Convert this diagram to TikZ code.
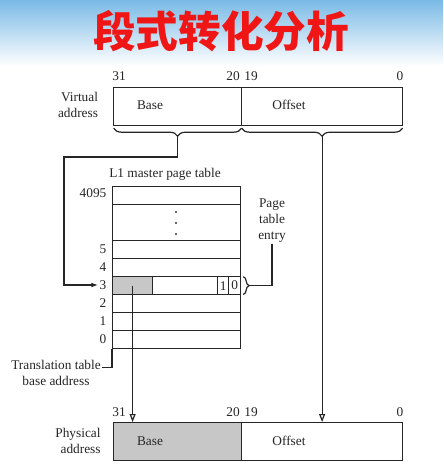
\documentclass[tikz,border=0pt]{standalone}
\usepackage{fontspec}
\setmainfont{Liberation Serif}
\newfontfamily\cjk{Noto Sans CJK SC}
\usetikzlibrary{arrows.meta,decorations.pathreplacing}
\definecolor{sky}{RGB}{122,186,230}
\definecolor{titlered}{RGB}{240,22,22}

\begin{document}
\begin{tikzpicture}[x=0.75pt,y=-0.75pt,
  cell/.style={draw=black!85, line width=0.9pt, inner sep=0pt, anchor=north west},
  lbl/.style={text=black!85, font=\fontsize{10}{12}\selectfont, inner sep=1pt},
  conn/.style={draw=black!85, line width=0.9pt},
  openarrow/.style={conn, -{Triangle[open, length=6pt, width=4.5pt]}}]
\newcommand{\px}{0.75pt}
\useasboundingbox (0,0) rectangle (443,466);
\fill[white] (0,0) rectangle (443,466);
\shade[top color=sky, bottom color=white] (0,0) rectangle (443,66);
\node[font=\cjk\bfseries\fontsize{32}{32}\selectfont, text=titlered] (title) at (221,31) {段式转化分析};

% virtual address
\node[cell, minimum width=128*\px, minimum height=38*\px] (vbase) at (113,87) {};
\node[cell, minimum width=161*\px, minimum height=38*\px] (voff) at (241,87) {};
\node[lbl] (vbasetxt) at (150,105) {Base};
\node[lbl] (vofftxt) at (289,105) {Offset};
\node[lbl, align=right] (vaddr) at (78,105) {Virtual\\address};
\foreach \b/\x in {31/119,20/233,19/251,0/400}
  {
    \node[lbl] (vb\b) at (\x,76) {\b};
  }
\draw[conn, decorate, decoration={brace, mirror, amplitude=6pt}]
  ([xshift=0.5pt,yshift=-1.5pt]vbase.south west) -- ([xshift=-0.5pt,yshift=-1.5pt]vbase.south east);
\draw[conn, decorate, decoration={brace, mirror, amplitude=6pt}]
  ([xshift=0.5pt,yshift=-1.5pt]voff.south west) -- ([xshift=-0.5pt,yshift=-1.5pt]voff.south east);
\coordinate (vbtip) at ([yshift=-7.5pt]vbase.south);
\coordinate (votip) at ([yshift=-7.5pt]voff.south);

% L1 master page table
\node[lbl] (ttitle) at (165,174) {L1 master page table};
\node[cell, minimum width=128*\px, minimum height=18*\px] (r4095) at (112,186) {};
\node[cell, minimum width=128*\px, minimum height=36*\px] (rdots) at (112,204) {};
\foreach \y in {212,223,234}
  \fill[black!80] (176,\y) circle (0.9pt);
\node[lbl, anchor=east] (l4095) at (108,193) {4095};
\foreach \n [count=\i from 0] in {5,4,3,2,1,0}
  {
    \node[cell, minimum width=128*\px, minimum height=18*\px] (r\n) at (112,240+18*\i) {};
    \node[lbl, anchor=east] (l\n) at (108,249+18*\i) {\n};
  }
\node[cell, fill=black!22, minimum width=40*\px, minimum height=18*\px] (gbase) at (112,276) {};
\node[lbl, cell, minimum width=11*\px, minimum height=18*\px] (bit1) at (217,276) {1};
\node[lbl, cell, minimum width=12*\px, minimum height=18*\px] (bit0) at (228,276) {0};

\draw[conn, decorate, decoration={brace, amplitude=4.5pt}]
  ([xshift=1.5pt,yshift=-0.5pt]r3.north east) -- ([xshift=1.5pt,yshift=0.5pt]r3.south east);
\coordinate (rbtip) at ([xshift=6pt]r3.east);
\node[lbl, align=center] (pte) at (272,221) {Page\\table\\entry};
\draw[conn] (rbtip) -| (pte.south);

\node[lbl, align=center] (ttba) at (56,373) {Translation table\\base address};
\draw[conn] ([yshift=4pt]ttba.east) -| (r0.south west);

% physical address
\node[cell, fill=black!22, minimum width=128*\px, minimum height=38*\px] (pbase) at (113,422) {};
\node[cell, minimum width=161*\px, minimum height=38*\px] (poff) at (241,422) {};
\node[lbl] (pbasetxt) at (150,441) {Base};
\node[lbl] (pofftxt) at (289,441) {Offset};
\node[lbl, align=right] (paddr) at (78,441) {Physical\\address};
\foreach \b/\x in {31/119,20/233,19/251,0/400}
  {
    \node[lbl] (pb\b) at (\x,412) {\b};
  }

% connectors
\coordinate (turn) at (64,157);
\draw[conn, -{Latex[length=5pt,width=3.5pt]}] (vbtip) |- (turn) |- (l3.west);
\draw[openarrow] (votip) -- (votip |- poff.north);
\draw[openarrow] (gbase.center) -- (gbase.center |- pbase.north);
\end{tikzpicture}
\end{document}
